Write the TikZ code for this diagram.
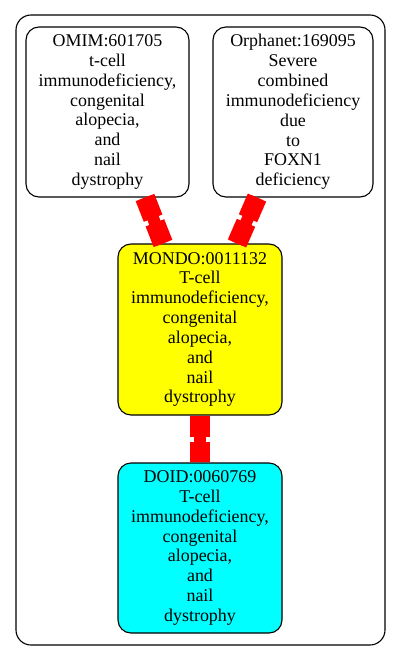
\documentclass[tikz,border=0pt]{standalone}
\usepackage{fontspec}
\setmainfont{Liberation Serif}
\usetikzlibrary{calc}
\definecolor{gvcyan}{RGB}{0,255,255}
\definecolor{gvyellow}{RGB}{255,255,0}
\definecolor{gvred}{RGB}{255,0,0}
\tikzset{
  termbox/.style={draw=black, line width=1.1bp, rounded corners=13bp, align=center,
    inner sep=0pt, font=\fontsize{18}{19.9}\selectfont},
  edgeline/.style={draw=gvred, line cap=butt},
}
\newcommand\redlink[2]{%
  \coordinate (mid) at ($(#1)!0.5!(#2)$);
  \draw[edgeline, line width=12bp] (#1) -- (#2);
  \draw[edgeline, line width=20bp] (#1) -- ($(mid)!2.5bp!(#1)$);
  \draw[edgeline, line width=20bp] ($(mid)!2.5bp!(#2)$) -- (#2);}
\begin{document}
\begin{tikzpicture}[x=1bp,y=-1bp]
\useasboundingbox (0,0) rectangle (400,661);
\draw[line width=1.1bp, rounded corners=15bp] (16,15) rectangle (385,645);
\node[termbox, minimum width=163bp, minimum height=170bp] (omim) at (107.5,112)
  {OMIM:601705\\t-cell\\immunodeficiency,\\congenital\\alopecia,\\and\\nail\\dystrophy};
\node[termbox, minimum width=160bp, minimum height=170bp] (orpha) at (293,112)
  {Orphanet:169095\\Severe\\combined\\immunodeficiency\\due\\to\\FOXN1\\deficiency};
\node[termbox, fill=gvyellow, minimum width=164bp, minimum height=171bp] (mondo) at (200,329.5)
  {MONDO:0011132\\T-cell\\immunodeficiency,\\congenital\\alopecia,\\and\\nail\\dystrophy};
\node[termbox, fill=gvcyan, minimum width=164bp, minimum height=170bp] (doid) at (200,548)
  {DOID:0060769\\T-cell\\immunodeficiency,\\congenital\\alopecia,\\and\\nail\\dystrophy};
\coordinate (e1s) at ([xshift=37.5bp]omim.south);
\coordinate (e1t) at ([xshift=-37bp]mondo.north);
\coordinate (e2s) at ([xshift=-36bp]orpha.south);
\coordinate (e2t) at ([xshift=37bp]mondo.north);
\coordinate (e3s) at (mondo.south);
\coordinate (e3t) at (doid.north);
\redlink{e1s}{e1t}
\redlink{e2s}{e2t}
\redlink{e3s}{e3t}
\end{tikzpicture}
\end{document}
